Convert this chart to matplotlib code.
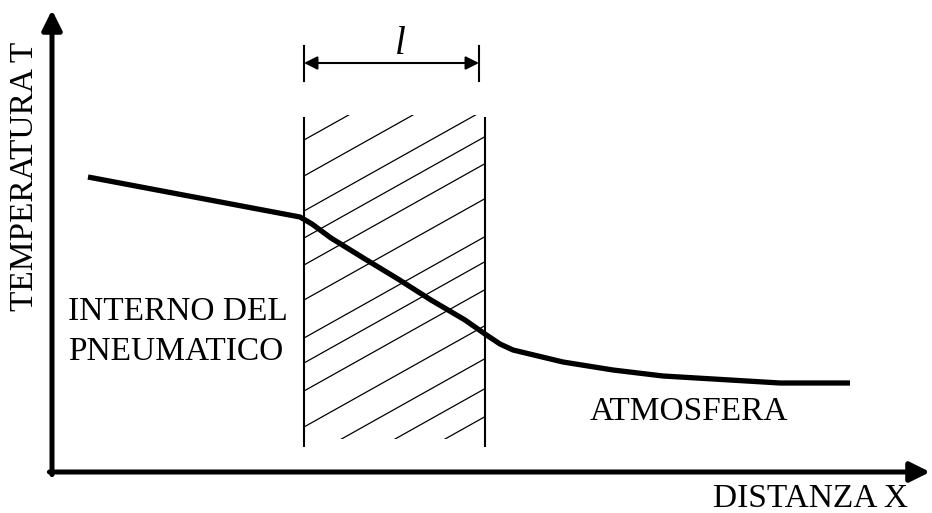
import matplotlib
matplotlib.use("Agg")
import matplotlib.pyplot as plt
import matplotlib.patches as mpatches
import numpy as np

# ---------------------------------------------------------
# dati (distanza X, temperatura T) in unità di disegno
# origine nell'incrocio degli assi
# ---------------------------------------------------------
curve_x = [36, 248, 260, 279, 313, 346, 379, 413, 433, 448, 461, 511, 561, 611, 678, 728, 798]
curve_t = [295, 255, 248, 234, 213, 193, 172, 152, 138, 128, 122, 110, 102, 96, 92, 89, 89]

wall_x = [252, 433]          # bordi della parete (spessore l)
wall_t = [25, 355]           # estensione verticale della parete
hatch_top = 357
hatch_bottom = 33
hatch_start = [332, 296, 261, 234, 207, 172, 134, 109, 81, 45, 12, -18, -46]
hatch_slope = 0.56

dim_x = [252, 427]           # quota "l"
dim_t = 409

labels = {
    "y": "TEMPERATURA T",
    "x": "DISTANZA X",
    "in": "INTERNO DEL\nPNEUMATICO",
    "out": "ATMOSFERA",
    "l": "l",
}

FONT = "Liberation Serif"

fig = plt.figure(figsize=(9.32, 5.13), dpi=100)
fig.patch.set_facecolor("white")
ax = fig.add_axes([0, 0, 1, 1])
ax.set_xlim(-52, 880)
ax.set_ylim(-41, 472)
ax.axis("off")

# assi con freccia
ax.annotate("", xy=(0, 462), xytext=(0, -2.6),
            arrowprops=dict(arrowstyle="-|>", lw=3.6, color="black",
                            mutation_scale=30, shrinkA=0, shrinkB=0))
ax.annotate("", xy=(878, 0), xytext=(-2.6, 0),
            arrowprops=dict(arrowstyle="-|>", lw=3.6, color="black",
                            mutation_scale=30, shrinkA=0, shrinkB=0))

# parete
for wx in wall_x:
    ax.plot([wx, wx], wall_t, color="black", lw=1.5, solid_capstyle="butt")

# tratteggio obliquo, ritagliato sulla parete
clip = mpatches.Rectangle((wall_x[0], hatch_bottom), wall_x[1] - wall_x[0],
                          hatch_top - hatch_bottom, transform=ax.transData,
                          fill=False, visible=False)
ax.add_patch(clip)
for t0 in hatch_start:
    xs = np.array(wall_x, dtype=float)
    ts = t0 + hatch_slope * (xs - wall_x[0])
    ln, = ax.plot(xs, ts, color="black", lw=0.9)
    ln.set_clip_path(clip)

# curva della temperatura
ax.plot(curve_x, curve_t, color="black", lw=3.8,
        solid_capstyle="butt", solid_joinstyle="round", zorder=5)

# quota dello spessore
for dx in dim_x:
    ax.plot([dx, dx], [dim_t - 18, dim_t + 17], color="black", lw=1.5)
ax.annotate("", xy=(dim_x[1], dim_t), xytext=(dim_x[0], dim_t),
            arrowprops=dict(arrowstyle="<|-|>", lw=1.5, color="black",
                            mutation_scale=20, shrinkA=0, shrinkB=0))
ax.text(348, 418, labels["l"], family=FONT, style="italic", fontsize=28,
        ha="center", va="baseline")

# testi
ax.text(-27, 296, labels["y"], family=FONT, fontsize=24, rotation=90,
        ha="center", va="center")
ax.text(661, -35, labels["x"], family=FONT, fontsize=24,
        ha="left", va="baseline")
ax.text(16, 152, labels["in"].split("\n")[0], family=FONT, fontsize=24,
        ha="left", va="baseline")
ax.text(16, 112, labels["in"].split("\n")[1], family=FONT, fontsize=24,
        ha="left", va="baseline")
ax.text(538, 52, labels["out"], family=FONT, fontsize=24,
        ha="left", va="baseline")

fig.savefig("out.png", dpi=100)
